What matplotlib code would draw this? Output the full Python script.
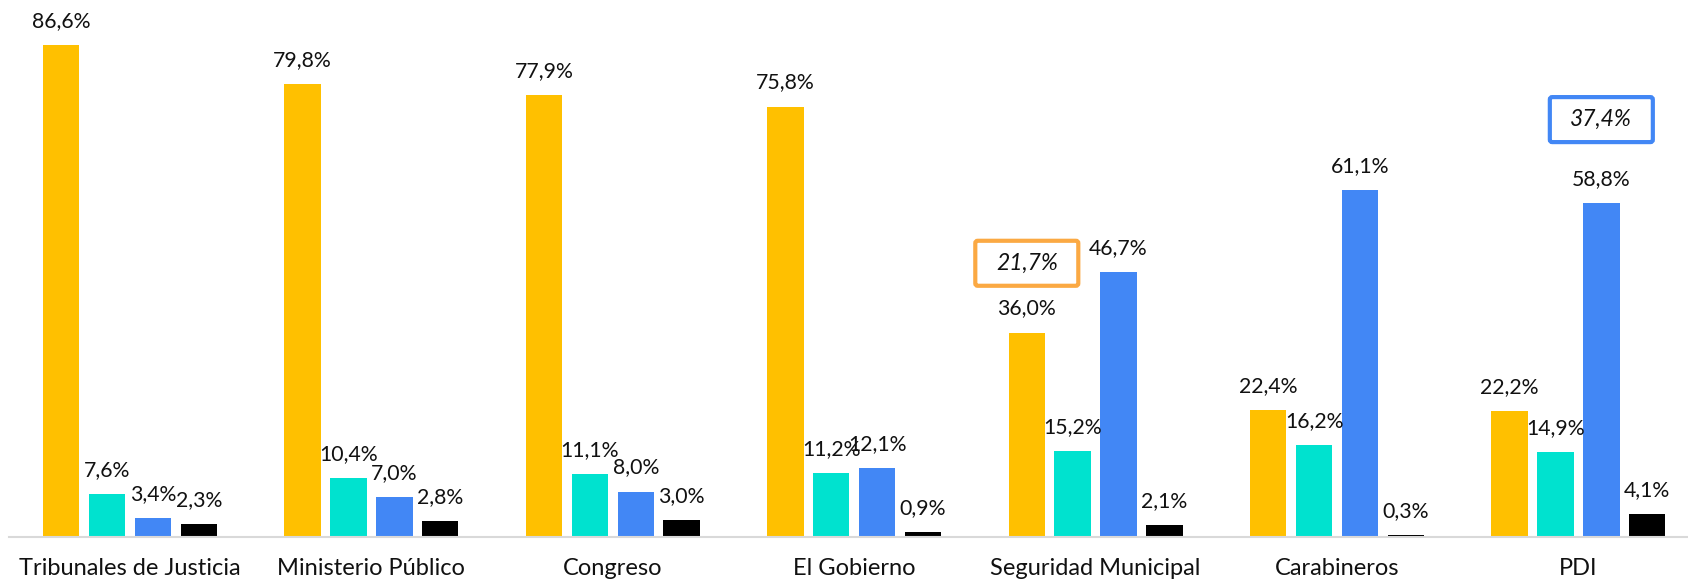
import numpy as np
import matplotlib
matplotlib.use("Agg")
import matplotlib.pyplot as plt
from matplotlib.patches import FancyBboxPatch

plt.rcParams['font.family'] = ['Lato', 'DejaVu Sans']

# data
categories = ["Tribunales de Justicia", "Ministerio Público", "Congreso", "El Gobierno",
              "Seguridad Municipal", "Carabineros", "PDI"]
serie_amarilla = [86.6, 79.8, 77.9, 75.8, 36.0, 22.4, 22.2]
serie_turquesa = [7.6, 10.4, 11.1, 11.2, 15.2, 16.2, 14.9]
serie_azul = [3.4, 7.0, 8.0, 12.1, 46.7, 61.1, 58.8]
serie_negra = [2.3, 2.8, 3.0, 0.9, 2.1, 0.3, 4.1]

# highlighted values (category index, series index, text, y position)
highlights = [(4, 0, "21,7%", 48.2), (6, 2, "37,4%", 73.5)]

colors = ["#FFC000", "#00E2CF", "#4287F5", "#000000"]
box_colors = {0: "#FBA943", 2: "#4287F5"}

series = [serie_amarilla, serie_turquesa, serie_azul, serie_negra]

fig = plt.figure(figsize=(16.88, 5.82), dpi=100)
ax = fig.add_axes([9.3 / 1688, 45 / 582, 1 - 9.3 / 1688, 537 / 582])

x = np.arange(len(categories))
step = 0.19
width = 0.151
offsets = [-1.5, -0.5, 0.5, 1.5]

for vals, col, off in zip(series, colors, offsets):
    bars = ax.bar(x + off * step, vals, width=width, color=col, zorder=2)
    for b, v in zip(bars, vals):
        ax.annotate(f"{v:.1f}%".replace(".", ","),
                    (b.get_x() + b.get_width() / 2, b.get_height()),
                    xytext=(0, 14), textcoords="offset pixels",
                    ha="center", va="bottom", fontsize=15.3, color="#111111")

# boxed annotations
px_x = 241.4  # pixels per category
px_y = 537 / 94.56
for ci, si, txt, yv in highlights:
    cx = ci + offsets[si] * step
    w = 103 / px_x
    h = 45 / px_y
    box = FancyBboxPatch((cx - w / 2, yv - h / 2), w, h,
                         boxstyle="round,pad=0,rounding_size=0.01",
                         mutation_aspect=px_x / px_y,
                         linewidth=3, edgecolor=box_colors[si], facecolor="white",
                         zorder=3, clip_on=False)
    ax.add_patch(box)
    ax.text(cx, yv, txt, ha="center", va="center", fontsize=16.5,
            style="italic", color="#111111", zorder=4)

ax.set_xlim(-0.5, (1688 - 130) / px_x)
ax.set_ylim(0, 94.56)
ax.set_xticks(x)
ax.set_xticklabels(categories, fontsize=17, color="#111111")
ax.tick_params(axis="x", length=0, pad=15)
ax.set_yticks([])
for s in ["top", "right", "left"]:
    ax.spines[s].set_visible(False)
ax.spines["bottom"].set_color("#D9D9D9")
ax.spines["bottom"].set_linewidth(1.5)

fig.savefig("out.png", dpi=100)
